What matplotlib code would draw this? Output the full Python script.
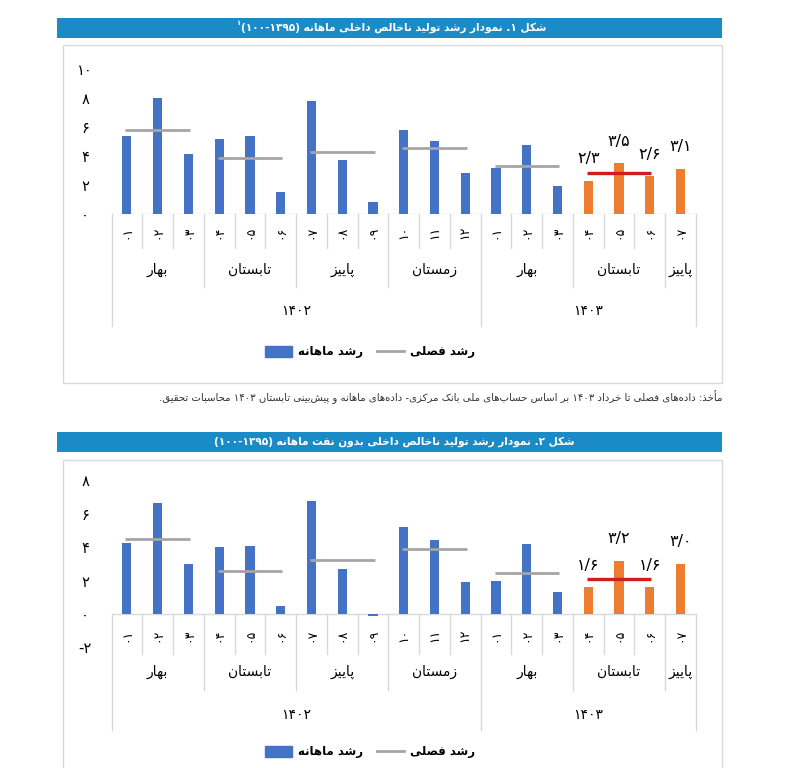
import matplotlib
matplotlib.use('Agg')
import matplotlib.pyplot as plt
from matplotlib.patches import Rectangle, Patch
from matplotlib.lines import Line2D

# ---- data ----
months = ['۰۱', '۰۲', '۰۳', '۰۴', '۰۵', '۰۶', '۰۷', '۰۸', '۰۹', '۱۰', '۱۱', '۱۲',
          '۰۱', '۰۲', '۰۳', '۰۴', '۰۵', '۰۶', '۰۷']
seasons = ['بهار', 'تابستان', 'پاییز', 'زمستان', 'بهار', 'تابستان', 'پاییز']
season_sizes = [3, 3, 3, 3, 3, 3, 1]
years = ['۱۴۰۲', '۱۴۰۳']
year_sizes = [12, 7]

gdp_monthly = [5.4, 8.0, 4.15, 5.2, 5.35, 1.55, 7.8, 3.75, 0.85, 5.8, 5.0, 2.8,
               3.2, 4.75, 1.95, 2.3, 3.5, 2.6, 3.1]
gdp_seasonal = [5.8, 3.85, 4.25, 4.55, 3.3, 2.85]
gdp_labels = ['۲/۳', '۳/۵', '۲/۶', '۳/۱']

nonoil_monthly = [4.25, 6.65, 3.0, 4.0, 4.05, 0.45, 6.75, 2.7, -0.1, 5.2, 4.45, 1.9,
                  2.0, 4.2, 1.3, 1.6, 3.2, 1.6, 3.0]
nonoil_seasonal = [4.5, 2.6, 3.25, 3.9, 2.45, 2.1]
nonoil_labels = ['۱/۶', '۳/۲', '۱/۶', '۳/۰']

# ---- minimal persian shaping + rtl ordering (matplotlib does no shaping) ----
DUAL = {'ب': 0xFE8F, 'ت': 0xFE95, 'ث': 0xFE99, 'ج': 0xFE9D, 'ح': 0xFEA1, 'خ': 0xFEA5,
        'س': 0xFEB1, 'ش': 0xFEB5, 'ص': 0xFEB9, 'ض': 0xFEBD, 'ط': 0xFEC1, 'ظ': 0xFEC5,
        'ع': 0xFEC9, 'غ': 0xFECD, 'ف': 0xFED1, 'ق': 0xFED5, 'ل': 0xFEDD, 'م': 0xFEE1,
        'ن': 0xFEE5, 'ه': 0xFEE9, 'ي': 0xFEF1,
        'پ': 0xFB56, 'چ': 0xFB7A, 'ک': 0xFB8E, 'گ': 0xFB92, 'ی': 0xFBFC}
RIGHT = {'ا': 0xFE8D, 'أ': 0xFE83, 'آ': 0xFE81, 'د': 0xFEA9, 'ذ': 0xFEAB,
         'ر': 0xFEAD, 'ز': 0xFEAF, 'و': 0xFEED, 'ژ': 0xFB8A}
LAM_ALEF = {'ا': 0xFEFB, 'أ': 0xFEF7, 'آ': 0xFEF5}
DIGITS = set('۰۱۲۳۴۵۶۷۸۹0123456789')
MIRROR = {'(': ')', ')': '('}


def shape(s):
    out = []
    i = 0
    while i < len(s):
        c = s[i]
        prev = s[i - 1] if i > 0 else ''
        nxt = s[i + 1] if i + 1 < len(s) else ''
        p = prev in DUAL
        if c == 'ل' and nxt in LAM_ALEF:
            out.append(chr(LAM_ALEF[nxt] + (1 if p else 0)))
            i += 2
            continue
        if c in DUAL:
            q = nxt in DUAL or nxt in RIGHT
            k = 3 if (p and q) else 1 if p else 2 if q else 0
            out.append(chr(DUAL[c] + k))
        elif c in RIGHT:
            out.append(chr(RIGHT[c] + (1 if p else 0)))
        elif c != '\u200c':
            out.append(c)
        i += 1
    return ''.join(out)


def fa(s):
    s = shape(s)
    runs = []
    for j, c in enumerate(s):
        num = c in DIGITS or (c in '/.-' and 0 < j < len(s) - 1
                               and s[j - 1] in DIGITS and s[j + 1] in DIGITS)
        if runs and runs[-1][0] == num:
            runs[-1][1].append(c)
        else:
            runs.append([num, [c]])
    vis = ''
    for num, chars in reversed(runs):
        if num:
            vis += ''.join(chars)
        else:
            vis += ''.join(MIRROR.get(ch, ch) for ch in reversed(chars))
    return vis


plt.rcParams['font.family'] = ['DejaVu Sans']

BLUE = '#4472c4'
ORANGE = '#ed7d31'
GRAY = '#a5a5a5'
RED = '#d01c1f'
GRID = '#d9d9d9'
BAR_BLUE = '#1a8bc6'

W, H = 800, 768
X0, X1 = 111.5, 696
fig = plt.figure(figsize=(8, 7.68), dpi=100)
renderer = fig.canvas.get_renderer()


def frac_rect(x0, y0, x1, y1):
    return [x0 / W, 1 - y1 / H, (x1 - x0) / W, (y1 - y0) / H]


def header(y0, y1, text, note=None):
    fig.add_artist(Rectangle((57 / W, 1 - y1 / H), 665 / W, (y1 - y0) / H,
                             transform=fig.transFigure, color=BAR_BLUE, lw=0))
    t = fig.text(394 / W, 1 - (y0 + y1) / 2 / H, fa(text), color='white',
                 fontsize=7.6, fontweight='bold', ha='center', va='center')
    if note:
        bb = t.get_window_extent(renderer)
        fig.text((bb.x0 - 1) / W, 1 - (y0 + 5) / H, note, color='white', fontsize=5,
                 fontweight='bold', ha='right', va='center')


def box(y0, y1):
    fig.add_artist(Rectangle((63 / W, 1 - y1 / H), 659 / W, (y1 - y0) / H,
                             transform=fig.transFigure, facecolor='none',
                             edgecolor=GRID, lw=1))


def chart(monthly, seasonal, labels, y_top, y_zero, ppu, ymin, ticks, ticklabels,
          rows, legend_y):
    y_bot = y_zero - ymin * ppu
    ax = fig.add_axes(frac_rect(X0, y_top, X1, y_bot))
    ax.set_xlim(-0.5, len(monthly) - 0.5)
    ax.set_ylim(ymin, (y_zero - y_top) / ppu)
    ax.patch.set_visible(False)
    for s in ax.spines.values():
        s.set_visible(False)
    ax.set_xticks([])
    ax.set_yticks(ticks)
    ax.set_yticklabels(ticklabels, fontsize=10.5, ha='center')
    ax.tick_params(axis='y', length=0, pad=19)

    n_act = len(monthly) - len(labels)
    colors = [BLUE] * n_act + [ORANGE] * len(labels)
    x = list(range(len(monthly)))
    ax.bar(x, monthly, width=0.3, color=colors, zorder=2)
    ax.axhline(0, color=GRID, lw=1, zorder=1)

    starts = [sum(season_sizes[:k]) for k in range(len(seasonal))]
    ends = [s + season_sizes[k] - 1 for k, s in enumerate(starts)]
    ax.hlines(seasonal[:-1], [s - 0.05 for s in starts[:-1]], [e + 0.05 for e in ends[:-1]],
              color=GRAY, lw=2, zorder=3)
    ax.hlines(seasonal[-1:], starts[-1] - 0.05, ends[-1] + 0.05, color=RED, lw=2.4, zorder=3)

    for k, lab in enumerate(labels):
        i = n_act + k
        ax.annotate(lab, (i, monthly[i]), xytext=(0, 16), textcoords='offset points',
                    ha='center', va='center', fontsize=11.5)

    # multi-level category axis
    m_lab, m_end, s_lab, s_end, y_lab, y_end = rows
    cat = fig.add_axes(frac_rect(X0, y_zero, X1, y_zero + y_end))
    cat.set_xlim(-0.5, len(monthly) - 0.5)
    cat.set_ylim(y_end, 0)
    cat.axis('off')
    season_b = [sum(season_sizes[:k]) - 0.5 for k in range(len(season_sizes) + 1)]
    year_b = [sum(year_sizes[:k]) - 0.5 for k in range(len(year_sizes) + 1)]
    for b in range(len(monthly) + 1):
        xb = b - 0.5
        depth = y_end if xb in year_b else s_end if xb in season_b else m_end
        cat.plot([xb, xb], [0, depth], color=GRID, lw=1, clip_on=False)
    for i, m in enumerate(months):
        cat.text(i, m_lab, m, rotation=90, ha='center', va='center', fontsize=9)
    for k, sname in enumerate(seasons):
        c = (season_b[k] + season_b[k + 1]) / 2
        cat.text(c, s_lab, fa(sname), ha='center', va='center', fontsize=10)
    for k, yname in enumerate(years):
        c = (year_b[k] + year_b[k + 1]) / 2
        cat.text(c, y_lab, yname, ha='center', va='center', fontsize=10)

    handles = [Patch(color=BLUE), Line2D([], [], color=GRAY, lw=2)]
    fig.legend(handles, [fa('رشد ماهانه'), fa('رشد فصلی')], loc='center',
               bbox_to_anchor=(370 / W, 1 - legend_y / H), ncol=2, frameon=False,
               prop={'weight': 'bold', 'size': 8.5}, handlelength=2.3,
               handleheight=1.0, handletextpad=0.5, columnspacing=1.2)


# ---- panel 1 ----
header(18, 38, 'شکل ۱. نمودار رشد تولید ناخالص داخلی ماهانه (۱۰۰-۱۳۹۵)', note='۱')
box(45, 383)
chart(gdp_monthly, gdp_seasonal, gdp_labels, 60, 214, 14.5, 0,
      [0, 2, 4, 6, 8, 10], ['۰', '۲', '۴', '۶', '۸', '۱۰'],
      (18, 34, 56, 73, 97, 112), 352)

fig.text(722 / W, 1 - 397 / H,
         fa('مأخذ: داده‌های فصلی تا خرداد ۱۴۰۳ بر اساس حساب‌های ملی بانک مرکزی- '
            'داده‌های ماهانه و پیش‌بینی تابستان ۱۴۰۳ محاسبات تحقیق.'),
         ha='right', va='center', fontsize=7.3, color='#333333')

# ---- panel 2 ----
header(432, 452, 'شکل ۲. نمودار رشد تولید ناخالص داخلی بدون نفت ماهانه (۱۰۰-۱۳۹۵)')
box(460, 800)
chart(nonoil_monthly, nonoil_seasonal, nonoil_labels, 468, 614, 16.7, -2,
      [-2, 0, 2, 4, 6, 8], ['-۲', '۰', '۲', '۴', '۶', '۸'],
      (21, 40, 58, 76, 101, 116), 752)

fig.savefig('out.png', dpi=100, facecolor='white')
